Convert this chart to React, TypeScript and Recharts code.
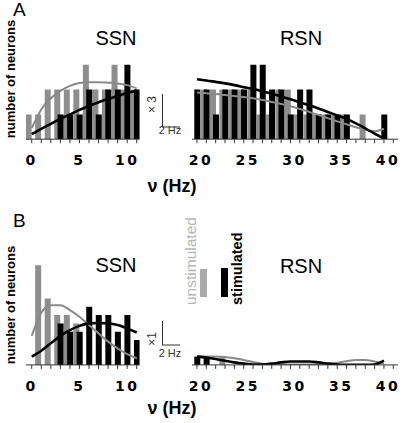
import { Bar, ComposedChart, Line, XAxis, YAxis } from 'recharts';

// firing-rate bins (Hz)
const ssnHz = [0, 1, 2, 3, 4, 5, 6, 7, 8, 9, 10, 11];
const rsnHz = [20, 21, 22, 23, 24, 25, 26, 27, 28, 29, 30, 31, 32, 33, 34, 35, 36, 37, 38, 39, 40];
const ssnTicks = [0, 1, 2, 3, 4, 5, 6, 7, 8, 9, 10, 11];
const rsnTicks = [20, 21, 22, 23, 24, 25, 26, 27, 28, 29, 30, 31, 32, 33, 34, 35, 36, 37, 38, 39, 40, 41];

// panel A - neurons per bin (x3)
const aSsnUnstim = [1, 1, 2, 2, 2, 2, 3, 2, 2, 3, 2, 2];
const aSsnStim = [0, 0, 0, 1, 1, 1, 2, 1, 2, 2, 3, 2];
const aSsnUnstimFit = [0.45, 1.2, 1.65, 1.95, 2.15, 2.27, 2.3, 2.3, 2.28, 2.25, 2.18, 2.05];
const aSsnStimFit = [0.2, 0.42, 0.62, 0.82, 1.0, 1.18, 1.34, 1.49, 1.62, 1.74, 1.86, 1.96];

const aRsnUnstim = [0, 2, 2, 2, 2, 2, 2, 1, 1, 2, 2, 1, 1, 1, 1, 1, 1, 0, 1, 0, 0];
const aRsnStim = [2, 2, 1, 2, 2, 2, 3, 3, 2, 2, 1, 2, 2, 1, 1, 1, 1, 0, 0, 0, 1];
const aRsnUnstimFit = [1.88, 1.85, 1.82, 1.78, 1.74, 1.7, 1.65, 1.58, 1.5, 1.42, 1.33, 1.22, 1.1, 0.98, 0.85, 0.72, 0.6, 0.48, 0.38, 0.32, 0.42];
const aRsnStimFit = [2.42, 2.37, 2.31, 2.25, 2.18, 2.1, 2.02, 1.93, 1.83, 1.72, 1.61, 1.49, 1.37, 1.24, 1.1, 0.96, 0.82, 0.64, 0.44, 0.22, 0.02];

// panel B - neurons per bin (x1)
const bSsnUnstim = [0, 12, 8, 6, 6, 5, 0, 0, 0, 0, 0, 0];
const bSsnStim = [0, 0, 0, 5, 4, 4, 7, 6, 6, 4, 6, 3];
const bSsnUnstimFit = [3.5, 6.3, 7.2, 7.2, 6.6, 5.8, 4.8, 3.8, 2.8, 2.0, 1.3, 0.8];
const bSsnStimFit = [1.0, 1.7, 2.6, 3.5, 4.2, 4.7, 5.0, 5.05, 5.0, 4.8, 4.4, 3.9];

const bRsnUnstim = [0, 0, 0, 1, 0, 0, 0, 0, 0, 0, 0, 0, 0, 0, 0, 0, 0, 0, 0, 0, 0];
const bRsnStim = [1, 1, 0, 0, 0, 0, 0, 0, 0, 0, 0, 0, 0, 0, 0, 0, 0, 0, 0, 0, 0];
const bRsnUnstimFit = [1.0, 1.0, 1.0, 0.95, 0.8, 0.6, 0.35, 0.15, 0.05, 0.05, 0.05, 0.05, 0.05, 0.05, 0.1, 0.25, 0.45, 0.6, 0.6, 0.4, 0.15];
const bRsnStimFit = [1.0, 0.9, 0.7, 0.5, 0.3, 0.15, 0.05, 0.05, 0.15, 0.3, 0.4, 0.4, 0.4, 0.3, 0.15, 0.05, 0.02, 0.02, 0.02, 0.05, 0.5];

const GRAY = '#8e8e8e';

type PanelProps = {
  hz: number[];
  unstim: number[];
  stim: number[];
  unstimFit: number[];
  stimFit: number[];
  ticks: number[];
  domain: [number, number];
  shift: number;
  labelDx: number;
  left: number;
  right: number;
  base: number;
  unit: number;
  yMax: number;
};

function Panel({ hz, unstim, stim, unstimFit, stimFit, ticks, domain, shift, labelDx, left, right, base, unit, yMax }: PanelProps) {
  const data = hz.map((v, i) => ({
    hz: v,
    unstim: unstim[i],
    stim: stim[i],
    unstimFit: unstimFit[i],
    stimFit: stimFit[i],
  }));
  const plotH = yMax * unit;
  const top = 4;
  const axisH = 34;
  return (
    <div style={{ position: 'absolute', left: left - 6, top: base - plotH - top }}>
      <ComposedChart
        width={right - left + 12}
        height={top + plotH + axisH}
        data={data}
        margin={{ top, right: 6, bottom: 0, left: 6 }}
      >
        <XAxis
          xAxisId="main"
          dataKey="hz"
          type="number"
          domain={domain}
          ticks={ticks}
          interval={0}
          allowDataOverflow
          height={axisH}
          tickSize={4}
          tickMargin={12}
          stroke="#333"
          tickFormatter={(v: number) => (v % 5 === 0 ? String(v) : '')}
          tick={{ fill: '#000', fontSize: 14, fontWeight: 700, fontFamily: 'DejaVu Sans', letterSpacing: 2.5, dx: labelDx }}
        />
        <XAxis
          xAxisId="shift"
          dataKey="hz"
          type="number"
          domain={[domain[0] + shift, domain[1] + shift]}
          allowDataOverflow
          hide
        />
        <YAxis hide type="number" domain={[0, yMax]} allowDataOverflow />
        <Bar xAxisId="shift" dataKey="unstim" fill={GRAY} barSize={6} isAnimationActive={false} />
        <Bar xAxisId="main" dataKey="stim" fill="#000" barSize={6} isAnimationActive={false} />
        <Line
          xAxisId="main"
          type="monotone"
          dataKey="unstimFit"
          stroke="#8a8a8a"
          strokeWidth={2}
          dot={false}
          activeDot={false}
          isAnimationActive={false}
        />
        <Line
          xAxisId="main"
          type="monotone"
          dataKey="stimFit"
          stroke="#000"
          strokeWidth={2.6}
          dot={false}
          activeDot={false}
          isAnimationActive={false}
        />
      </ComposedChart>
    </div>
  );
}

export default function App() {
  const ssnDomain: [number, number] = [-0.6, 11.3];
  const rsnDomain: [number, number] = [19.47, 41.5];
  return (
    <div
      style={{
        position: 'fixed',
        left: 0,
        top: 0,
        width: 410,
        height: 423,
        background: '#fff',
        fontFamily: '"Liberation Sans", Arial, sans-serif',
      }}
    >
      <Panel hz={ssnHz} unstim={aSsnUnstim} stim={aSsnStim} unstimFit={aSsnUnstimFit} stimFit={aSsnStimFit}
        ticks={ssnTicks} domain={ssnDomain} shift={0.35} labelDx={0} left={26} right={139.6} base={139.3} unit={24.8} yMax={4} />
      <Panel hz={rsnHz} unstim={aRsnUnstim} stim={aRsnStim} unstimFit={aRsnUnstimFit} stimFit={aRsnStimFit}
        ticks={rsnTicks} domain={rsnDomain} shift={0.32} labelDx={4} left={192} right={398} base={139.3} unit={24.8} yMax={4} />
      <Panel hz={ssnHz} unstim={bSsnUnstim} stim={bSsnStim} unstimFit={bSsnUnstimFit} stimFit={bSsnStimFit}
        ticks={ssnTicks} domain={ssnDomain} shift={0.35} labelDx={0} left={26} right={139.6} base={365} unit={8.3} yMax={13} />
      <Panel hz={rsnHz} unstim={bRsnUnstim} stim={bRsnStim} unstimFit={bRsnUnstimFit} stimFit={bRsnStimFit}
        ticks={rsnTicks} domain={rsnDomain} shift={0.32} labelDx={4} left={192} right={398} base={365} unit={8.3} yMax={13} />

      <svg width={410} height={423} style={{ position: 'absolute', left: 0, top: 0, pointerEvents: 'none' }}>
        <text x={13} y={16} fontSize={19}>A</text>
        <text x={13} y={227} fontSize={19}>B</text>

        <text transform="translate(15,79) rotate(-90)" textAnchor="middle" fontSize={13} fontWeight={700}>number of neurons</text>
        <text transform="translate(15,305) rotate(-90)" textAnchor="middle" fontSize={13} fontWeight={700}>number of neurons</text>

        <text x={116} y={45} textAnchor="middle" fontSize={20}>SSN</text>
        <text x={301} y={45} textAnchor="middle" fontSize={20}>RSN</text>
        <text x={116} y={272} textAnchor="middle" fontSize={20}>SSN</text>
        <text x={301} y={273} textAnchor="middle" fontSize={20}>RSN</text>

        <text x={172} y={192} textAnchor="middle" fontSize={18} fontWeight={700}>ν (Hz)</text>
        <text x={172} y={414} textAnchor="middle" fontSize={18} fontWeight={700}>ν (Hz)</text>

        {/* scale bars */}
        <g stroke="#333" strokeWidth={1}>
          <line x1={162.5} y1={94} x2={162.5} y2={127} />
          <line x1={162} y1={127} x2={180} y2={127} />
          <line x1={162.5} y1={321} x2={162.5} y2={345} />
          <line x1={162} y1={345} x2={180} y2={345} />
        </g>
        <text x={170} y={133.5} textAnchor="middle" fontSize={11} fill="#333">2 Hz</text>
        <text x={170} y={357} textAnchor="middle" fontSize={11} fill="#333">2 Hz</text>
        <text transform="translate(156,104.5) rotate(-90)" textAnchor="middle" fontSize={12} fill="#333">× 3</text>
        <text transform="translate(156,339) rotate(-90)" textAnchor="middle" fontSize={12} fill="#333">×1</text>

        {/* legend */}
        <text transform="translate(195.5,305) rotate(-90)" fontSize={15.5} fill="#b5b5b5">unstimulated</text>
        <rect x={200} y={269} width={7} height={28} fill="#aaa" />
        <rect x={221} y={268} width={7} height={29} fill="#000" />
        <text transform="translate(241.5,305) rotate(-90)" fontSize={14.5} fontWeight={700} fill="#000">stimulated</text>
      </svg>
    </div>
  );
}
